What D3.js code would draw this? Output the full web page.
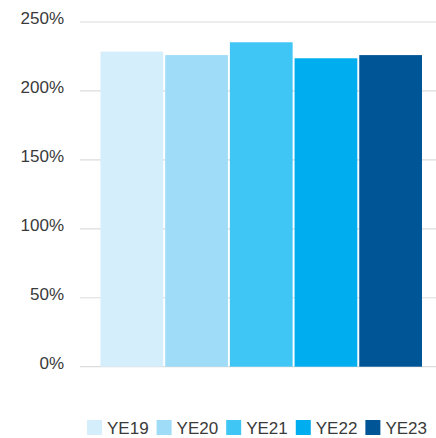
<!DOCTYPE html>
<html>
<head>
<meta charset="utf-8">
<script src="https://cdn.jsdelivr.net/npm/d3@7"></script>
<style>
  body { margin: 0; background: #fff; }
  text { font-family: "Liberation Sans", Arial, sans-serif; fill: #3a3a3a; }
</style>
</head>
<body>
<div id="chart-area"></div>
<script>
var categories = ["YE19", "YE20", "YE21", "YE22", "YE23"];
var values = [228.5, 226, 235.3, 223.7, 226];
var colors = ["#d5eefb", "#9fdcf7", "#40c6f4", "#00aeef", "#005596"];
var tickValues = [0, 50, 100, 150, 200, 250];

var W = 436, H = 438;
var svg = d3.select("#chart-area")
    .append("svg")
        .attr("width", W)
        .attr("height", H);

// Y scale
var y = d3.scaleLinear()
    .domain([0, 250])
    .range([366.7, 22]);

// X scale
var x = d3.scaleBand()
    .domain(categories)
    .range([100.5, 422])
    .paddingInner(0.03)
    .paddingOuter(0);

// Gridlines
svg.append("g")
    .selectAll("line")
    .data(tickValues)
    .enter()
    .append("line")
        .attr("x1", 80)
        .attr("x2", W)
        .attr("y1", function(d){ return y(d); })
        .attr("y2", function(d){ return y(d); })
        .attr("stroke", "#dcdcdc")
        .attr("stroke-width", 1.2);

// Y labels
svg.append("g")
    .selectAll("text")
    .data(tickValues)
    .enter()
    .append("text")
        .attr("x", 64)
        .attr("y", function(d){ return y(d) + 2; })
        .attr("text-anchor", "end")
        .attr("font-size", "17px")
        .text(function(d){ return d + "%"; });

// Bars
svg.append("g")
    .selectAll("rect")
    .data(values)
    .enter()
    .append("rect")
        .attr("x", function(d, i){ return x(categories[i]); })
        .attr("width", x.bandwidth())
        .attr("y", function(d){ return y(d); })
        .attr("height", function(d){ return y(0) - y(d); })
        .attr("fill", function(d, i){ return colors[i]; });

// Legend
var legend = svg.append("g").attr("transform", "translate(87,419)");
var offset = 0;
categories.forEach(function(c, i) {
    var item = legend.append("g").attr("transform", "translate(" + offset + ",0)");
    item.append("rect")
        .attr("y", 1)
        .attr("width", 15)
        .attr("height", 15)
        .attr("fill", colors[i]);
    var t = item.append("text")
        .attr("x", 20)
        .attr("y", 15)
        .attr("font-size", "17px")
        .text(c);
    offset += 20 + t.node().getComputedTextLength() + 8;
});
</script>
</body>
</html>
